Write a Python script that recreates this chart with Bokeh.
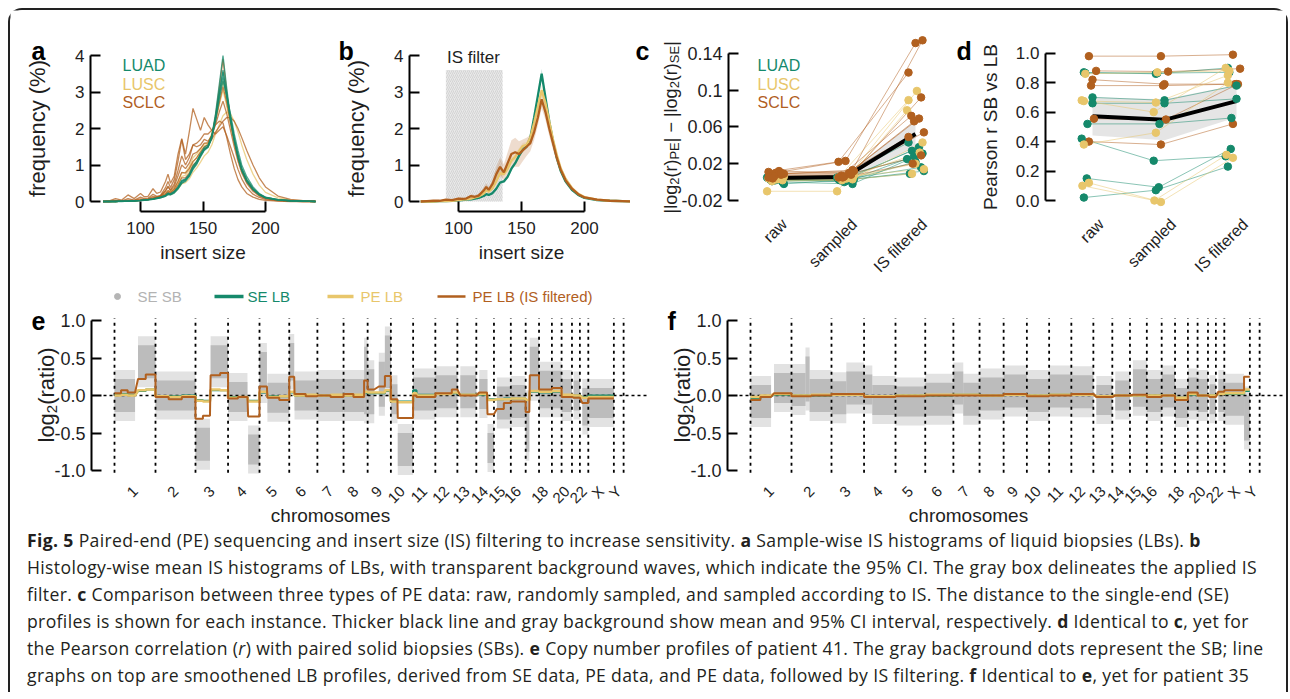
import numpy as np
from bokeh.plotting import figure
from bokeh.models import Range1d, FixedTicker, Label, Div, PrintfTickFormatter
from bokeh.layouts import row, column
from bokeh.embed import file_html
from bokeh.resources import INLINE

# ---------------------------------------------------------------- data
insert_size = [70, 75, 80, 85, 90, 95, 100, 103, 106, 110, 113, 116, 120, 122, 124, 127, 130, 133,
               136, 139, 142, 145, 148, 151, 154, 157, 160, 163, 166, 169, 172, 175, 178, 181, 185,
               190, 195, 200, 210, 220, 230, 240]

a_luad_1 = [0,0,0,0.01,0.01,0.02,0.03,0.04,0.05,0.07,0.09,0.11,0.16,0.22,0.2,0.26,0.38,0.55,0.6,0.72,0.95,1.1,1.3,1.45,1.5,1.8,2.4,3.2,4.0,3.1,2.3,1.7,1.2,0.85,0.55,0.32,0.18,0.1,0.04,0.02,0.01,0]
a_luad_2 = [0,0,0,0.01,0.01,0.02,0.03,0.04,0.05,0.06,0.08,0.1,0.15,0.2,0.19,0.25,0.36,0.5,0.58,0.7,0.9,1.05,1.25,1.42,1.5,1.75,2.3,3.0,3.6,2.9,2.2,1.65,1.2,0.85,0.55,0.33,0.19,0.1,0.04,0.02,0.01,0]
a_luad_3 = [0,0,0,0.01,0.01,0.02,0.03,0.04,0.05,0.07,0.09,0.12,0.17,0.23,0.21,0.27,0.4,0.58,0.62,0.75,0.97,1.1,1.3,1.48,1.55,1.8,2.3,2.9,3.4,2.85,2.25,1.7,1.25,0.9,0.6,0.36,0.2,0.11,0.05,0.02,0.01,0]
a_luad_4 = [0,0,0,0,0.01,0.01,0.02,0.03,0.04,0.06,0.08,0.1,0.14,0.19,0.18,0.23,0.34,0.5,0.55,0.68,0.88,1.02,1.22,1.4,1.48,1.72,2.25,2.95,3.55,2.95,2.3,1.75,1.3,0.92,0.6,0.35,0.2,0.11,0.05,0.02,0.01,0]
a_luad_5 = [0,0,0,0.01,0.01,0.02,0.03,0.04,0.05,0.07,0.09,0.12,0.17,0.22,0.21,0.27,0.38,0.55,0.6,0.72,0.92,1.05,1.25,1.42,1.5,1.75,2.2,2.8,3.3,2.9,2.4,1.85,1.4,1.0,0.68,0.4,0.22,0.12,0.05,0.02,0.01,0]
a_lusc_1 = [0,0,0,0.01,0.01,0.02,0.03,0.04,0.05,0.07,0.1,0.13,0.2,0.27,0.25,0.32,0.48,0.68,0.72,0.85,1.08,1.2,1.38,1.52,1.58,1.85,2.3,2.85,3.3,2.75,2.2,1.7,1.25,0.9,0.6,0.36,0.2,0.11,0.05,0.02,0.01,0]
a_lusc_2 = [0,0,0,0.01,0.01,0.02,0.03,0.04,0.05,0.07,0.09,0.11,0.15,0.2,0.19,0.24,0.34,0.48,0.52,0.62,0.8,0.92,1.08,1.25,1.35,1.55,1.85,2.1,2.35,2.45,2.4,2.2,1.9,1.55,1.15,0.75,0.45,0.25,0.1,0.04,0.02,0.01]
a_lusc_3 = [0,0,0,0.01,0.01,0.02,0.03,0.05,0.06,0.08,0.11,0.14,0.22,0.3,0.27,0.36,0.55,0.78,0.8,0.95,1.2,1.3,1.45,1.58,1.62,1.85,2.2,2.65,3.05,2.6,2.1,1.6,1.2,0.85,0.55,0.33,0.18,0.1,0.04,0.02,0.01,0]
a_sclc_1 = [0,0.02,0.08,0.04,0.18,0.08,0.22,0.13,0.14,0.35,0.22,0.26,0.55,0.75,0.5,0.7,1.3,1.72,1.3,1.9,2.55,2.25,1.95,2.3,2.1,1.95,1.85,1.95,2.05,1.8,1.5,1.2,0.88,0.62,0.38,0.2,0.11,0.06,0.02,0.01,0,0]
a_sclc_2 = [0,0.01,0.03,0.02,0.08,0.04,0.12,0.08,0.09,0.2,0.14,0.17,0.38,0.55,0.38,0.6,1.1,1.7,1.15,1.3,1.55,1.5,1.55,1.7,1.65,1.8,2.1,2.45,2.75,2.4,1.95,1.5,1.1,0.78,0.5,0.28,0.15,0.08,0.03,0.01,0,0]
a_sclc_3 = [0,0,0.01,0.01,0.02,0.02,0.04,0.05,0.06,0.1,0.12,0.15,0.28,0.4,0.3,0.42,0.7,1.0,0.9,1.05,1.3,1.35,1.45,1.6,1.6,1.8,2.2,2.7,3.15,2.7,2.15,1.65,1.2,0.85,0.55,0.32,0.18,0.1,0.04,0.02,0.01,0]
a_sclc_4 = [0,0,0.01,0.01,0.02,0.02,0.04,0.05,0.06,0.09,0.11,0.14,0.22,0.3,0.25,0.35,0.55,0.8,0.78,0.9,1.1,1.2,1.35,1.5,1.55,1.7,1.9,2.05,2.2,2.3,2.3,2.2,2.0,1.75,1.4,1.0,0.65,0.4,0.15,0.06,0.02,0.01]
a_sclc_5 = [0,0,0.02,0.01,0.04,0.03,0.07,0.06,0.07,0.14,0.12,0.15,0.3,0.42,0.32,0.48,0.85,1.25,1.0,1.2,1.55,1.6,1.7,1.85,1.85,1.95,2.1,2.2,2.15,1.75,1.3,0.9,0.6,0.4,0.22,0.12,0.06,0.03,0.01,0,0,0]
a_sclc_6 = [0,0,0,0.01,0.01,0.02,0.03,0.04,0.05,0.07,0.09,0.11,0.18,0.25,0.22,0.3,0.45,0.65,0.65,0.78,1.0,1.1,1.28,1.45,1.5,1.75,2.35,3.1,3.9,3.0,2.25,1.65,1.2,0.85,0.55,0.32,0.18,0.1,0.04,0.02,0.01,0]

b_luad = [0,0,0,0.01,0.01,0.02,0.03,0.04,0.05,0.06,0.08,0.1,0.15,0.2,0.18,0.23,0.35,0.52,0.55,0.68,0.9,1.05,1.25,1.42,1.5,1.75,2.3,2.9,3.5,2.85,2.2,1.65,1.2,0.85,0.55,0.32,0.18,0.1,0.04,0.02,0.01,0]
b_lusc = [0,0,0,0.01,0.01,0.02,0.04,0.05,0.06,0.08,0.11,0.14,0.22,0.3,0.27,0.36,0.55,0.78,0.75,0.9,1.12,1.22,1.38,1.52,1.55,1.75,2.15,2.6,3.05,2.7,2.2,1.7,1.28,0.92,0.62,0.37,0.21,0.12,0.05,0.02,0.01,0]
b_sclc = [0,0.01,0.02,0.02,0.05,0.04,0.08,0.07,0.08,0.15,0.13,0.16,0.3,0.4,0.32,0.48,0.75,0.95,0.8,1.05,1.3,1.35,1.3,1.4,1.5,1.6,1.9,2.3,2.8,2.45,2.0,1.6,1.2,0.88,0.58,0.35,0.2,0.11,0.05,0.02,0.01,0]
b_luad_ci = [0,0,0,0,0,0,0.005,0.005,0.01,0.01,0.01,0.01,0.02,0.02,0.02,0.02,0.03,0.04,0.04,0.04,0.05,0.05,0.05,0.05,0.05,0.06,0.08,0.1,0.14,0.1,0.08,0.06,0.05,0.04,0.03,0.02,0.01,0.01,0.005,0,0,0]
b_lusc_ci = [0,0,0,0,0.01,0.01,0.01,0.01,0.01,0.02,0.02,0.02,0.03,0.04,0.03,0.04,0.06,0.07,0.07,0.07,0.08,0.08,0.08,0.08,0.08,0.09,0.1,0.12,0.15,0.13,0.11,0.09,0.07,0.06,0.05,0.03,0.02,0.01,0.01,0,0,0]
b_sclc_ci = [0,0.01,0.01,0.01,0.02,0.02,0.03,0.03,0.03,0.05,0.05,0.05,0.08,0.1,0.08,0.12,0.2,0.25,0.22,0.3,0.38,0.4,0.35,0.3,0.25,0.22,0.22,0.22,0.25,0.22,0.2,0.18,0.15,0.12,0.1,0.07,0.05,0.03,0.02,0.01,0,0]
is_filter = (90, 135, 3.6)

categories = ["raw", "sampled", "IS filtered"]
c_group = ["LUAD"] * 10 + ["LUSC"] * 8 + ["SCLC"] * 11
c_raw = [0.004,0.003,0.001,0.0,0.005,0.002,0.006,0.003,-0.002,0.004,
         0.003,0.004,-0.01,0.002,0.005,0.006,0.001,0.003,
         0.010,0.009,0.011,0.008,0.007,0.012,0.006,0.009,0.005,0.010,0.004]
c_sampled = [0.003,0.004,0.002,-0.002,0.005,0.001,0.004,0.002,0.003,0.0,
             0.004,0.005,-0.01,0.003,0.006,0.007,0.002,0.004,
             0.023,0.013,0.022,0.008,0.007,0.010,0.006,0.012,0.005,0.009,0.005]
c_isf = [0.043,0.038,0.034,0.031,0.025,0.022,0.016,0.009,0.012,0.028,
         0.099,0.089,0.078,0.043,0.032,0.014,0.009,0.020,
         0.151,0.154,0.119,0.092,0.072,0.069,0.066,0.054,0.049,0.029,0.020]
c_jitter = [-0.1,0.05,-0.05,0.1,-0.12,0.0,0.08,-0.08,0.12,-0.02,
            0.02,-0.1,-0.12,0.1,0.06,0.12,-0.05,0.0,
            0.0,0.1,-0.1,0.08,-0.06,0.05,-0.02,0.12,-0.1,0.08,-0.04]

d_group = ["SCLC"] * 6 + ["LUAD"] * 8 + ["LUSC"] * 6
d_raw = [0.98,0.88,0.82,0.78,0.555,0.40, 0.87,0.70,0.66,0.52,0.42,0.15,0.02,0.865, 0.68,0.675,0.38,0.10,0.12,0.86]
d_sampled = [0.98,0.875,0.79,0.78,0.55,0.38, 0.86,0.68,0.66,0.52,0.27,0.09,0.07,0.865, 0.60,0.665,0.46,0.0,-0.01,0.87]
d_isf = [0.99,0.895,0.79,0.79,0.79,0.52, 0.90,0.78,0.69,0.56,0.30,0.35,0.23,0.87, 0.90,0.85,0.80,0.31,0.29,0.88]
d_jitter = [-0.05,0.05,0.0,-0.02,0.02,-0.05, -0.12,0.0,0.0,-0.07,-0.15,-0.08,-0.12,-0.1, -0.15,-0.12,-0.12,-0.14,-0.05,-0.1]

chrom_names = ["1","2","3","4","5","6","7","8","9","10","11","12","13","14","15","16","17","18",
               "19","20","21","22","X","Y"]
chrom_len_mb = [249.3,243.2,198.0,191.2,180.9,171.1,159.1,146.4,141.2,135.5,135.0,133.9,115.2,
                107.3,102.5,90.4,81.2,78.1,59.1,63.0,48.1,51.3,155.3,59.4]
chrom_shown = ["1","2","3","4","5","6","7","8","9","10","11","12","13","14","15","16","18","20",
               "22","X","Y"]

# solid biopsy cloud: (chrom, start Mb, end Mb, centre, half spread)
e_sb = [("1",0,125,0.0,0.22),("1",143,249,0.45,0.22),("2",0,243,0.0,0.2),("3",0,88,-0.65,0.22),
        ("3",92,198,0.45,0.22),("4",0,118,-0.02,0.2),("4",122,191,-0.72,0.2),("5",0,45,0.3,0.28),
        ("5",48,181,-0.03,0.2),("6",0,30,0.45,0.25),("6",32,171,0.0,0.2),("7",0,159,0.0,0.22),
        ("8",0,125,0.0,0.22),("8",125,146,0.2,0.45),("9",0,40,0.05,0.3),("9",68,105,0.15,0.3),
        ("9",105,141,0.45,0.35),("10",0,40,-0.05,0.2),("10",42,135,-0.72,0.22),("11",0,135,0.02,0.22),
        ("12",0,134,0.05,0.22),("13",18,115,0.05,0.22),("14",18,68,0.02,0.2),("14",68,107,-0.7,0.2),
        ("15",18,103,-0.1,0.22),("16",0,90,-0.08,0.22),("17",0,22,-0.4,0.35),("17",25,81,0.35,0.3),
        ("18",0,78,0.08,0.25),("19",0,59,0.08,0.25),("20",0,63,0.0,0.22),("21",10,48,0.0,0.2),
        ("22",15,51,-0.15,0.25),("X",0,155,-0.1,0.2)]
e_seg = [("1",0,40),("1",40,80),("1",80,125),("1",143,190),("1",190,249),("2",0,80),("2",80,160),
         ("2",160,243),("3",0,45),("3",45,88),("3",92,150),("3",150,198),("4",0,60),("4",60,118),
         ("4",122,191),("5",0,45),("5",48,120),("5",120,181),("6",0,30),("6",32,100),("6",100,171),
         ("7",0,80),("7",80,159),("8",0,60),("8",60,125),("8",125,146),("9",0,40),("9",68,105),
         ("9",105,141),("10",0,40),("10",42,135),("11",0,20),("11",20,135),("12",0,100),("12",100,134),
         ("13",18,115),("14",18,65),("14",68,107),("15",18,60),("15",60,103),("16",0,90),("17",0,22),
         ("17",25,81),("18",0,78),("19",0,59),("20",0,63),("21",10,48),("22",15,51),("X",0,155)]
e_se_lb = [0.01,0.02,0.01,0.06,0.08,-0.01,-0.01,0.0,-0.06,-0.07,0.07,0.07,-0.02,-0.02,-0.07,0.04,-0.01,
           -0.01,0.04,0.0,0.0,0.0,0.0,0.0,0.0,0.04,0.03,0.03,0.06,-0.07,-0.08,0.07,0.01,0.02,0.03,0.01,
           0.01,-0.05,-0.05,-0.04,-0.04,-0.06,0.05,0.04,0.05,0.0,0.0,-0.02,0.0]
e_pe_lb = [0.0,0.01,0.0,0.07,0.08,-0.01,-0.02,-0.01,-0.07,-0.08,0.08,0.07,-0.03,-0.02,-0.08,0.05,-0.02,
           -0.01,0.05,0.0,0.01,0.0,0.01,0.0,0.01,0.05,0.04,0.04,0.07,-0.08,-0.09,0.03,0.0,0.02,0.04,0.01,
           0.02,-0.06,-0.05,-0.05,-0.04,-0.06,0.06,0.05,0.06,0.01,0.0,-0.03,-0.02]
e_pe_is = [0.03,0.07,0.04,0.22,0.28,-0.02,-0.05,-0.02,-0.31,-0.27,0.27,0.3,-0.04,-0.02,-0.28,0.12,-0.03,
           -0.06,0.25,0.02,-0.01,0.0,-0.02,0.02,-0.02,0.2,0.08,0.12,0.26,-0.05,-0.3,0.0,-0.02,0.03,0.08,
           0.0,0.04,-0.25,-0.18,-0.1,-0.08,-0.22,0.27,0.08,0.1,-0.02,-0.03,-0.1,-0.04]

f_sb = [("1",0,125,-0.08,0.22),("1",143,249,0.1,0.2),("2",0,85,0.08,0.22),("2",85,110,0.22,0.3),
        ("2",110,243,0.0,0.22),("3",0,90,-0.03,0.22),("3",90,198,0.1,0.22),("4",0,50,0.08,0.2),
        ("4",50,191,-0.06,0.2),("5",0,181,-0.08,0.2),("6",0,171,-0.05,0.22),("7",0,60,0.1,0.22),
        ("7",60,159,-0.05,0.22),("8",0,146,0.02,0.22),("9",0,141,0.06,0.22),("10",0,135,0.0,0.22),
        ("11",0,135,0.06,0.22),("12",0,134,0.05,0.22),("13",18,115,-0.06,0.2),("14",18,107,0.0,0.2),
        ("15",18,103,0.1,0.25),("16",0,90,0.0,0.22),("17",0,81,0.06,0.22),("18",0,78,-0.1,0.2),
        ("19",0,59,0.02,0.22),("20",0,63,0.0,0.22),("21",10,48,-0.05,0.2),("22",15,51,0.0,0.22),
        ("X",0,120,-0.05,0.22),("X",120,155,-0.3,0.3)]
f_seg = [("1",0,60),("1",60,125),("1",143,249),("2",0,120),("2",120,243),("3",0,198),("4",0,191),
         ("5",0,181),("6",0,171),("7",0,159),("8",0,146),("9",0,141),("10",0,135),("11",0,135),
         ("12",0,134),("13",18,115),("14",18,107),("15",18,103),("16",0,90),("17",0,81),("18",0,78),
         ("19",0,59),("20",0,63),("21",10,48),("22",15,51),("X",0,120),("X",120,155)]
f_se_lb = [-0.04,-0.01,0.01,0.0,0.0,0.01,-0.01,0.0,0.0,0.01,0.0,0.01,0.0,0.01,0.01,-0.01,0.0,0.0,0.0,
           0.0,-0.03,0.01,0.0,0.0,0.02,0.02,0.06]
f_pe_lb = [-0.02,0.0,0.02,0.0,0.01,0.01,-0.01,0.0,0.01,0.01,0.0,0.01,0.0,0.01,0.01,-0.01,0.0,0.0,0.0,
           0.0,-0.03,0.02,0.0,0.0,0.02,0.03,0.08]
f_pe_is = [-0.06,-0.02,0.03,-0.01,0.0,0.02,-0.02,-0.01,0.0,0.0,0.0,0.02,-0.01,0.0,0.02,-0.02,0.0,0.01,
           -0.02,0.0,-0.06,0.04,0.0,-0.02,0.05,0.07,0.25]

# ---------------------------------------------------------------- style
FONT = "Liberation Sans"
INK = "#1e1e1e"
GREEN = "#15896b"
YELLOW = "#e8c66b"
BROWN = "#b1601f"
GREY = "#b5b5b5"
COL = {"LUAD": GREEN, "LUSC": YELLOW, "SCLC": BROWN}

# Liberation Sans advance widths (1/1000 em) for the composed axis titles
ADV = {"|": 260, "l": 222, "o": 556, "g": 556, "(": 333, "r": 333, ")": 333, "2": 556, "P": 667,
       "E": 667, "S": 667, " ": 278, "\u2212": 584, "a": 556, "t": 278, "i": 222}


class Geo:
    """maps page pixels to data coordinates of a figure whose frame fills the whole figure"""
    def __init__(self, fx, fy, fw, fh, xr, yr):
        self.fx, self.fy, self.fw, self.fh, self.xr, self.yr = fx, fy, fw, fh, xr, yr

    def x(self, px):
        return self.xr[0] + (px - self.fx) * (self.xr[1] - self.xr[0]) / self.fw

    def y(self, py):
        return self.yr[1] - (py - self.fy) * (self.yr[1] - self.yr[0]) / self.fh


def base_fig(px0, py0, w, h, xa, ya, sx, sy):
    x0 = xa[1] + (px0 - xa[0]) / sx
    x1 = xa[1] + (px0 + w - xa[0]) / sx
    y1 = ya[1] + (ya[0] - py0) / sy
    y0 = ya[1] - (py0 + h - ya[0]) / sy
    p = figure(width=w, height=h, x_range=Range1d(x0, x1), y_range=Range1d(y0, y1),
               output_backend="svg", toolbar_location=None, title=None,
               min_border=0, min_border_left=0, min_border_right=0, min_border_top=0,
               min_border_bottom=0)
    p.outline_line_color = None
    p.grid.visible = False
    p.border_fill_color = "white"
    p.background_fill_color = "white"
    return p, Geo(px0, py0, w, h, (x0, x1), (y0, y1))


def style_axis(ax, size="17px"):
    ax.axis_line_width = 2
    ax.axis_line_color = "black"
    ax.major_tick_line_width = 2
    ax.major_tick_line_color = "black"
    ax.major_tick_in = 10
    ax.major_tick_out = 0
    ax.minor_tick_line_color = None
    ax.major_label_text_font = FONT
    ax.major_label_text_font_size = size
    ax.major_label_text_color = INK
    ax.axis_label_text_font = FONT
    ax.axis_label_text_font_style = "normal"
    ax.axis_label_text_color = INK


def label_axis(ax, ticks, names, size):
    ax.axis_line_color = None
    ax.major_tick_line_color = None
    ax.minor_tick_line_color = None
    ax.ticker = FixedTicker(ticks=list(ticks))
    ax.major_label_overrides = {t: n for t, n in zip(ticks, names)}
    ax.major_label_orientation = np.pi / 4
    ax.major_label_text_font = FONT
    ax.major_label_text_font_size = size
    ax.major_label_text_color = INK


def letter(p, g, txt, px, py):
    p.add_layout(Label(x=g.x(px), y=g.y(py), text=txt, text_font=FONT, text_font_size="25px",
                       text_font_style="bold", text_align="left", text_baseline="alphabetic",
                       text_color="black"))


def note(p, g, txt, px, py, color, size="16px", align="left"):
    p.add_layout(Label(x=g.x(px), y=g.y(py), text=txt, text_font=FONT, text_font_size=size,
                       text_align=align, text_baseline="middle", text_color=color))


def rot_label(p, g, pieces, x_base, y_start, F, f, sub_shift):
    y = y_start
    for txt, sub in pieces:
        fs = f if sub else F
        xb = x_base + (sub_shift if sub else 0)
        p.add_layout(Label(x=g.x(xb), y=g.y(y), text=txt, angle=np.pi / 2, text_align="left",
                           text_baseline="alphabetic", text_font=FONT, text_font_size=f"{fs}px",
                           text_color=INK))
        y -= sum(ADV[c] for c in txt) / 1000.0 * fs


def hist_axes(p, g, x_axis_px, y_axis_px):
    style_axis(p.xaxis[0]); style_axis(p.yaxis[0])
    p.xaxis.fixed_location = g.y(x_axis_px)
    p.yaxis.fixed_location = g.x(y_axis_px)
    p.xaxis.ticker = FixedTicker(ticks=[100, 150, 200]); p.xaxis.bounds = (100, 200)
    p.yaxis.ticker = FixedTicker(ticks=[0, 1, 2, 3, 4]); p.yaxis.bounds = (0, 4)
    p.xaxis.major_label_standoff = 10
    p.yaxis.major_label_standoff = 6
    p.xaxis.axis_label = "insert size"; p.xaxis.axis_label_text_font_size = "19px"
    p.xaxis.axis_label_standoff = 5
    p.yaxis.axis_label = "frequency (%)"; p.yaxis.axis_label_text_font_size = "22px"
    p.yaxis.axis_label_standoff = 22


# ---------------------------------------------------------------- panel a
pa, ga = base_fig(10, 10, 320, 270, (140, 100), (201, 0), 1.25, 36.5)
hist_axes(pa, ga, 211, 90)
for grp, curve in [("LUSC", a_lusc_1), ("LUSC", a_lusc_2), ("LUSC", a_lusc_3),
                   ("SCLC", a_sclc_1), ("SCLC", a_sclc_2), ("SCLC", a_sclc_3), ("SCLC", a_sclc_4),
                   ("SCLC", a_sclc_5), ("SCLC", a_sclc_6),
                   ("LUAD", a_luad_1), ("LUAD", a_luad_2), ("LUAD", a_luad_3), ("LUAD", a_luad_4),
                   ("LUAD", a_luad_5)]:
    pa.line(insert_size, curve, line_color=COL[grp], line_width=1.3, line_alpha=0.75)
letter(pa, ga, "a", 31, 50)
for i, grp in enumerate(["LUAD", "LUSC", "SCLC"]):
    note(pa, ga, grp, 122, 65 + 18.5 * i, COL[grp])

# ---------------------------------------------------------------- panel b
pb, gb = base_fig(330, 10, 300, 270, (458, 100), (201, 0), 1.26, 36.5)
hist_axes(pb, gb, 211, 409)
pb.quad(left=[is_filter[0]], right=[is_filter[1]], bottom=[0], top=[is_filter[2]],
        fill_color="#e9e9e9", line_color=None, hatch_pattern="right_diagonal_line",
        hatch_color="#c4c4c4", hatch_scale=4, hatch_weight=0.6)
note(pb, gb, "IS filter", 473, 57, INK, size="17px", align="center")
ins = np.array(insert_size)
for grp, mean, ci in [("LUAD", b_luad, b_luad_ci), ("LUSC", b_lusc, b_lusc_ci), ("SCLC", b_sclc, b_sclc_ci)]:
    m = np.array(mean); c = np.array(ci)
    pb.varea(x=ins, y1=m - c, y2=m + c, fill_color=COL[grp], fill_alpha=0.22)
for grp, mean in [("LUAD", b_luad), ("LUSC", b_lusc), ("SCLC", b_sclc)]:
    pb.line(insert_size, mean, line_color=COL[grp], line_width=2.3)
letter(pb, gb, "b", 338, 50)


# ---------------------------------------------------------------- panels c, d
def dot_panel(p, g, groups, raw, samp, isf, jit, label_y_px, shift):
    vals = np.array([raw, samp, isf], dtype=float)
    n = vals.shape[1]
    mean = vals.mean(axis=1)
    ci = 1.96 * vals.std(axis=1, ddof=1) / np.sqrt(n)
    p.varea(x=[0, 1, 2], y1=mean - ci, y2=mean + ci, fill_color="#dcdcdc", fill_alpha=0.75)
    xs = [[k + jit[i] for k in range(3)] for i in range(n)]
    ys = [list(vals[:, i]) for i in range(n)]
    cols = [COL[gg] for gg in groups]
    p.multi_line(xs=xs, ys=ys, line_color=cols, line_width=1, line_alpha=0.5)
    p.line([0, 1, 2], mean, line_color="black", line_width=4)
    px = [x for xx in xs for x in xx]
    py = [y for yy in ys for y in yy]
    pcol = [c for c in cols for _ in range(3)]
    p.scatter(px, py, size=7.5, fill_color=pcol, line_color=pcol)
    ax = p.xaxis[0]
    ticks = [k + shift for k in range(3)]
    label_axis(ax, ticks, categories, "16px")
    ax.fixed_location = g.y(label_y_px)
    ax.major_label_standoff = 5


pc, gc = base_fig(630, 10, 320, 270, (775, 0), (52.7, 0.14), 70, 920.6)
style_axis(pc.yaxis[0], size="18px")
pc.yaxis.fixed_location = gc.x(728)
pc.yaxis.ticker = FixedTicker(ticks=[-0.02, 0.02, 0.06, 0.1, 0.14]); pc.yaxis.bounds = (-0.02, 0.14)
pc.yaxis.formatter = PrintfTickFormatter(format="%g")
pc.yaxis.major_label_standoff = 6
dot_panel(pc, gc, c_group, c_raw, c_sampled, c_isf, c_jitter, 210, 0.125)
rot_label(pc, gc, [("|log", 0), ("2", 1), ("(r)", 0), ("PE", 1), ("| \u2212 |log", 0), ("2", 1),
                   ("(r)", 0), ("SE", 1), ("|", 0)], 670, 213, 18, 13, 4)
letter(pc, gc, "c", 635, 50)
for i, grp in enumerate(["LUAD", "LUSC", "SCLC"]):
    note(pc, gc, grp, 757, 65 + 18.5 * i, COL[grp])

pd_, gd = base_fig(950, 10, 336, 270, (1092, 0), (52.7, 1.0), 72, 147.3)
style_axis(pd_.yaxis[0])
pd_.yaxis.fixed_location = gd.x(1045)
pd_.yaxis.ticker = FixedTicker(ticks=[0, 0.2, 0.4, 0.6, 0.8, 1.0]); pd_.yaxis.bounds = (0, 1)
pd_.yaxis.formatter = PrintfTickFormatter(format="%.1f")
pd_.yaxis.major_label_standoff = 6
pd_.yaxis.axis_label = "Pearson r SB vs LB"; pd_.yaxis.axis_label_text_font_size = "19px"
pd_.yaxis.axis_label_standoff = 12
dot_panel(pd_, gd, d_group, d_raw, d_sampled, d_isf, d_jitter, 210, 0.12)
letter(pd_, gd, "d", 956, 50)

# ---------------------------------------------------------------- panels e, f
chrom_off = np.concatenate([[0.0], np.cumsum(chrom_len_mb)])


def gpos(ch, mb):
    return chrom_off[chrom_names.index(ch)] + mb


def cnv_panel(px0, w, data0_px, yaxis_px, sb, seg, se, pe, isf, with_legend):
    p, g = base_fig(px0, 280, w, 252, (data0_px, 0), (395, 0), 0.16446, 75)
    style_axis(p.yaxis[0], size="18px")
    p.yaxis.fixed_location = g.x(yaxis_px)
    p.yaxis.ticker = FixedTicker(ticks=[-1, -0.5, 0, 0.5, 1]); p.yaxis.bounds = (-1, 1)
    p.yaxis.formatter = PrintfTickFormatter(format="%.1f")
    p.yaxis.major_label_standoff = 6
    ax = p.xaxis[0]
    ticks, names = [], []
    for i, nm in enumerate(chrom_names):
        if nm in chrom_shown:
            ticks.append(int(round(chrom_off[i] + chrom_len_mb[i] / 2)))
            names.append(nm)
    label_axis(ax, ticks, names, "15px")
    ax.fixed_location = g.y(478)
    ax.major_label_standoff = 4
    ax.axis_label = "chromosomes"
    ax.axis_label_text_font = FONT
    ax.axis_label_text_font_size = "19px"
    ax.axis_label_text_font_style = "normal"
    ax.axis_label_text_color = INK
    ax.axis_label_standoff = -10

    left = [gpos(s[0], s[1]) for s in sb]
    right = [gpos(s[0], s[2]) for s in sb]
    mid = np.array([s[3] for s in sb]); spr = np.array([s[4] for s in sb])
    p.quad(left=left, right=right, bottom=mid - spr - 0.12, top=mid + spr + 0.12,
           fill_color="#d6d6d6", fill_alpha=0.7, line_color=None)
    p.quad(left=left, right=right, bottom=mid - spr, top=mid + spr,
           fill_color=GREY, fill_alpha=0.85, line_color=None)
    p.segment(x0=list(chrom_off), y0=-1.03, x1=list(chrom_off), y1=1.03, line_color="black",
              line_width=1.8, line_dash="3 4")
    p.segment(x0=[g.x(yaxis_px + 12)], y0=[0], x1=[g.x(px0 + w - 2)], y1=[0], line_color="black",
              line_width=1.5, line_dash="3 3")
    for vals, col, lw in [(se, GREEN, 2.2), (pe, YELLOW, 2.6), (isf, BROWN, 2.0)]:
        xs, ys = [], []
        for (ch, s, e), v in zip(seg, vals):
            xs += [gpos(ch, s), gpos(ch, e)]
            ys += [v, v]
        p.line(xs, ys, line_color=col, line_width=lw)
    rot_label(p, g, [("log", 0), ("2", 1), ("(ratio)", 0)], yaxis_px - 45, 442, 22, 15, 5)
    if with_legend:
        ly = g.y(296)
        p.scatter([g.x(117)], [ly], size=6, fill_color=GREY, line_color=GREY)
        note(p, g, "SE SB", 137, 296, "#b3b3b3", size="15px")
        p.segment(x0=[g.x(214)], y0=[ly], x1=[g.x(243)], y1=[ly], line_color=GREEN, line_width=3.5)
        note(p, g, "SE LB", 247, 296, GREEN, size="15px")
        p.segment(x0=[g.x(327)], y0=[ly], x1=[g.x(353)], y1=[ly], line_color=YELLOW, line_width=3.5)
        note(p, g, "PE LB", 360, 296, YELLOW, size="15px")
        p.segment(x0=[g.x(437)], y0=[ly], x1=[g.x(465)], y1=[ly], line_color=BROWN, line_width=2.5)
        note(p, g, "PE LB (IS filtered)", 472, 296, BROWN, size="15px")
    return p, g


pe_, ge = cnv_panel(10, 640, 114, 91, e_sb, e_seg, e_se_lb, e_pe_lb, e_pe_is, True)
letter(pe_, ge, "e", 31, 320)
pf_, gf = cnv_panel(650, 636, 750, 727, f_sb, f_seg, f_se_lb, f_pe_lb, f_pe_is, False)
letter(pf_, gf, "f", 667, 320)

# ---------------------------------------------------------------- caption
caption_lines = [
    '<b>Fig. 5</b> Paired-end (PE) sequencing and insert size (IS) filtering to increase sensitivity. <b>a</b> Sample-wise IS histograms of liquid biopsies (LBs). <b>b</b>',
    'Histology-wise mean IS histograms of LBs, with transparent background waves, which indicate the 95% CI. The gray box delineates the applied IS',
    'filter. <b>c</b> Comparison between three types of PE data: raw, randomly sampled, and sampled according to IS. The distance to the single-end (SE)',
    'profiles is shown for each instance. Thicker black line and gray background show mean and 95% CI interval, respectively. <b>d</b> Identical to <b>c</b>, yet for',
    'the Pearson correlation (<i>r</i>) with paired solid biopsies (SBs). <b>e</b> Copy number profiles of patient 41. The gray background dots represent the SB; line',
    'graphs on top are smoothened LB profiles, derived from SE data, PE data, and PE data, followed by IS filtering. <b>f</b> Identical to <b>e</b>, yet for patient 35',
]
inner = "".join(f'<div style="white-space:nowrap;height:27px;line-height:27px">{ln}</div>' for ln in caption_lines)
cap = Div(text=(f'<div style="font-family:\'Open Sans\';font-size:17.6px;letter-spacing:0.35px;'
                f'color:#231f20;padding-left:17px;margin-top:-5px">{inner}</div>'),
          width=1276, height=160, margin=(0, 0, 0, 0))

layout = column(row(pa, pb, pc, pd_), row(pe_, pf_), cap, margin=(8, 0, 0, 8),
                styles={"border-top": "2px solid #222", "border-left": "2px solid #222",
                        "border-right": "2px solid #222", "border-top-left-radius": "14px",
                        "border-top-right-radius": "14px"})

open("out.html", "w").write(file_html(layout, INLINE))
